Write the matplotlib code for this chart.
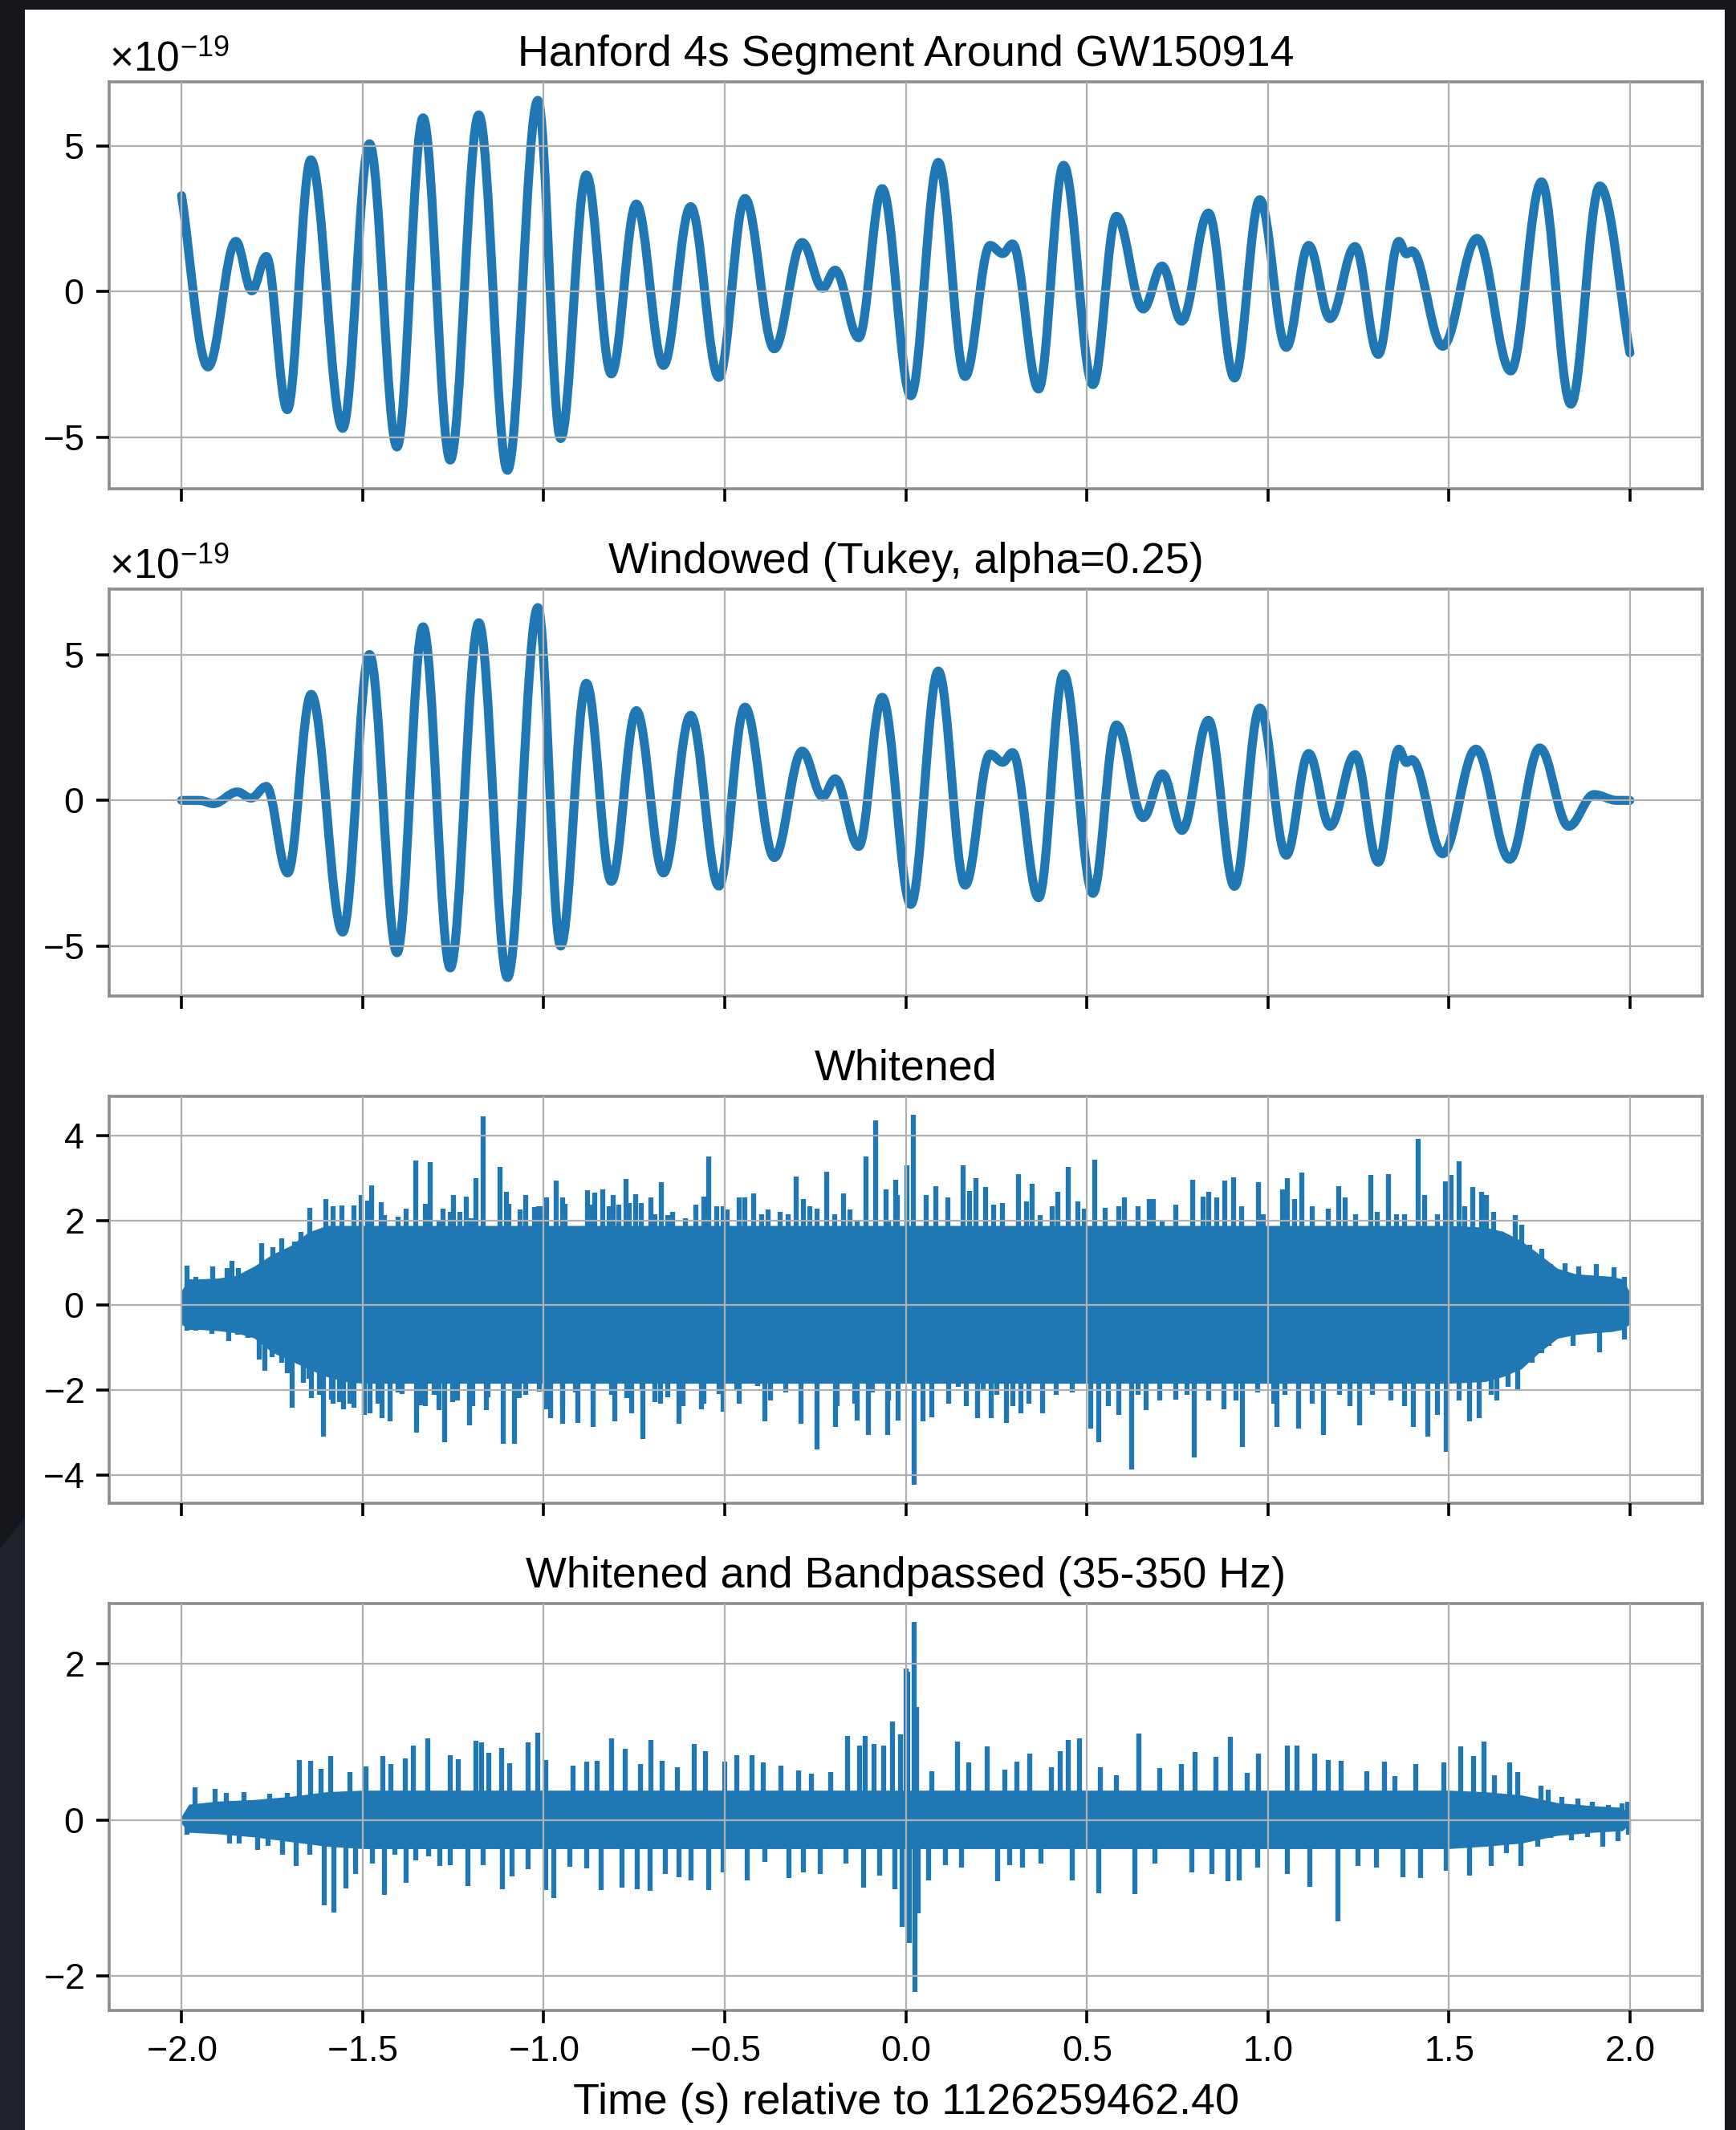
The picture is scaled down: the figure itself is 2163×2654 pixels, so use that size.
import matplotlib
matplotlib.use("Agg")
import matplotlib.pyplot as plt
from matplotlib.path import Path
from matplotlib.patches import PathPatch, Rectangle, Polygon
import numpy as np

# ---------------------------------------------------------------- data
STRAIN_UNIT = 1e-19
TITLES = [
    "Hanford 4s Segment Around GW150914",
    "Windowed (Tukey, alpha=0.25)",
    "Whitened",
    "Whitened and Bandpassed (35-350 Hz)",
]
XLABEL = "Time (s) relative to 1126259462.40"
XTICKS = [-2.0, -1.5, -1.0, -0.5, 0.0, 0.5, 1.0, 1.5, 2.0]
STRAIN_YTICKS = [-5, 0, 5]
WHITE_YTICKS = [-4, -2, 0, 2, 4]
BAND_YTICKS = [-2, 0, 2]

# raw strain: turning points of the low-frequency oscillation (units of 1e-19)
RAW_T = [-2.000, -1.927, -1.850, -1.806, -1.766, -1.708, -1.643, -1.555, -1.481,
         -1.405, -1.333, -1.258, -1.179, -1.100, -1.016, -0.953, -0.882, -0.813,
         -0.744, -0.669, -0.594, -0.516, -0.444, -0.363, -0.286, -0.229, -0.195,
         -0.130, -0.065, 0.014, 0.090, 0.164, 0.233, 0.268, 0.295, 0.367, 0.436,
         0.517, 0.582, 0.656, 0.708, 0.762, 0.836, 0.908, 0.978, 1.051, 1.113,
         1.172, 1.241, 1.305, 1.362, 1.383, 1.398, 1.483, 1.578, 1.671, 1.756,
         1.837, 1.917, 2.000]
RAW_V = [3.30, -2.58, 1.73, 0.03, 1.21, -4.05, 4.53, -4.69, 5.08,
         -5.33, 5.97, -5.78, 6.07, -6.13, 6.57, -5.04, 4.01, -2.82,
         3.01, -2.53, 2.92, -2.94, 3.20, -1.96, 1.69, 0.12, 0.74,
         -1.58, 3.54, -3.57, 4.44, -2.91, 1.59, 1.31, 1.64, -3.34, 4.34,
         -3.19, 2.59, -0.59, 0.88, -1.01, 2.70, -2.96, 3.16, -1.91, 1.59,
         -0.92, 1.55, -2.15, 1.73, 1.30, 1.40, -1.87, 1.83, -2.72, 3.77,
         -3.86, 3.63, -2.10]

# Tukey-windowed strain: turning points (units of 1e-19)
WIN_T = [-2.000, -1.950, -1.912, -1.846, -1.808, -1.766, -1.707, -1.642, -1.555,
         -1.481, -1.405, -1.333, -1.258, -1.179, -1.100, -1.016, -0.953, -0.882,
         -0.813, -0.744, -0.669, -0.594, -0.516, -0.444, -0.363, -0.286, -0.229,
         -0.195, -0.130, -0.065, 0.014, 0.090, 0.164, 0.233, 0.268, 0.295, 0.367,
         0.436, 0.517, 0.582, 0.656, 0.709, 0.763, 0.836, 0.908, 0.978, 1.051,
         1.113, 1.172, 1.241, 1.305, 1.362, 1.383, 1.398, 1.483, 1.575, 1.668,
         1.751, 1.831, 1.901, 1.964, 2.000]
WIN_V = [0.00, 0.00, -0.11, 0.29, 0.08, 0.48, -2.49, 3.64, -4.52,
         5.01, -5.23, 5.96, -5.75, 6.10, -6.08, 6.62, -5.00, 4.02,
         -2.78, 3.08, -2.49, 2.92, -2.94, 3.20, -1.96, 1.69, 0.12,
         0.74, -1.58, 3.54, -3.57, 4.44, -2.91, 1.59, 1.31, 1.64, -3.34,
         4.34, -3.19, 2.59, -0.59, 0.91, -1.03, 2.75, -2.95, 3.17, -1.88,
         1.61, -0.89, 1.57, -2.12, 1.76, 1.30, 1.40, -1.83, 1.76, -2.02,
         1.80, -0.89, 0.20, 0.00, 0.00]

# whitened: dense noise core envelope
WH_ENV_T = [-2.0, -1.98, -1.95, -1.9, -1.85, -1.8, -1.75, -1.7, -1.65, -1.6, -1.55,
            -1.5, -1.0, -0.5, 0.0, 0.5, 1.0, 1.5, 1.6, 1.65, 1.7, 1.75, 1.8, 1.85,
            1.9, 1.95, 1.98, 2.0]
WH_ENV_HI = [0.35, 0.62, 0.62, 0.64, 0.70, 0.92, 1.20, 1.40, 1.72, 1.88, 1.88,
             1.88, 1.88, 1.88, 1.88, 1.88, 1.88, 1.88, 1.84, 1.74, 1.52, 1.20, 0.87, 0.74,
             0.71, 0.68, 0.62, 0.30]
WH_ENV_LO = [-0.45, -0.57, -0.57, -0.60, -0.65, -0.77, -1.11, -1.30, -1.50, -1.68, -1.80,
             -1.84, -1.84, -1.84, -1.84, -1.84, -1.84, -1.84, -1.80, -1.68, -1.50, -1.11, -0.78, -0.69,
             -0.65, -0.62, -0.57, -0.44]
# whitened: tall excursions above the core
WH_UP_T = [-1.984, -1.960, -1.943, -1.914, -1.875, -1.860, -1.844, -1.830, -1.807, -1.779,
           -1.748, -1.724, -1.708, -1.688, -1.671, -1.646, -1.601, -1.581, -1.557, -1.524,
           -1.503, -1.476, -1.449, -1.354, -1.313, -1.278, -1.248, -1.214, -1.186, -1.167,
           -1.120, -1.103, -1.050, -1.014, -0.993, -0.965, -0.941, -0.878, -0.858, -0.836,
           -0.809, -0.772, -0.746, -0.703, -0.676, -0.643, -0.558, -0.544, -0.504, -0.459,
           -0.419, -0.381, -0.303, -0.282, -0.218, -0.171, -0.110, -0.084, -0.055, -0.027,
           0.003, 0.021, 0.083, 0.158, 0.194, 0.221, 0.311, 0.349, 0.419, 0.448,
           0.521, 0.604, 0.684, 0.792, 0.882, 0.905, 0.975, 1.055, 1.094, 1.195,
           1.285, 1.333, 1.415, 1.434, 1.506, 1.528, 1.566, 1.591, 1.623, 1.683,
           1.701, 1.723, 1.756, 1.781, 1.821, 1.859, 1.907, 1.956, 1.986]
WH_UP_V = [0.93, 0.67, 0.61, 0.92, 0.87, 1.04, 0.87, 0.74, 0.78, 1.47,
           1.36, 1.57, 1.06, 1.50, 1.73, 2.29, 2.50, 2.34, 2.36, 2.36,
           2.60, 2.83, 2.43, 3.41, 3.37, 2.27, 2.59, 2.57, 3.00, 4.46,
           3.26, 2.67, 2.60, 2.34, 2.54, 2.94, 2.39, 2.72, 2.65, 2.73,
           2.60, 2.98, 2.61, 2.54, 2.90, 2.21, 2.57, 3.51, 2.34, 2.55,
           2.63, 2.25, 3.04, 2.50, 3.15, 2.63, 3.50, 4.36, 2.74, 2.96,
           3.30, 4.49, 2.80, 3.30, 3.00, 2.78, 3.09, 2.86, 2.68, 3.27,
           3.44, 2.55, 2.50, 2.95, 2.94, 3.02, 2.91, 2.99, 3.13, 2.81,
           3.08, 3.09, 3.92, 2.59, 3.07, 3.40, 2.78, 2.67, 2.21, 2.13,
           1.89, 1.42, 1.34, 0.98, 1.00, 0.92, 0.98, 0.89, 0.66]
# whitened: shorter excursions along the top edge of the core
WH_UP2_T = [-1.486, -1.439, -1.401, -1.380, -1.326, -1.288, -1.259, -1.231, -1.200, -1.096,
            -1.065, -1.025, -1.004, -0.948, -0.870, -0.820, -0.792, -0.764, -0.731, -0.693,
            -0.657, -0.608, -0.579, -0.523, -0.494, -0.445, -0.398, -0.346, -0.324, -0.265,
            -0.246, -0.197, -0.154, -0.133, -0.048, -0.023, 0.056, 0.116, 0.176, 0.243,
            0.266, 0.334, 0.371, 0.404, 0.476, 0.494, 0.551, 0.589, 0.642, 0.672,
            0.709, 0.747, 0.822, 0.837, 0.860, 0.927, 0.987, 1.040, 1.074, 1.122,
            1.168, 1.213, 1.243, 1.303, 1.355, 1.378, 1.468, 1.491, 1.543, 1.603]
WH_UP2_V = [2.47, 2.12, 2.09, 2.27, 2.39, 2.02, 2.21, 2.21, 2.05, 2.39,
            2.25, 2.31, 2.34, 2.54, 2.38, 2.34, 2.38, 2.41, 2.41, 2.15,
            2.12, 2.05, 2.38, 2.34, 2.25, 2.54, 2.15, 2.21, 2.15, 2.34,
            2.28, 2.15, 2.25, 2.02, 2.02, 2.60, 2.60, 2.54, 2.70, 2.38,
            2.41, 2.44, 2.12, 2.34, 2.44, 2.28, 2.29, 2.34, 2.34, 2.50,
            2.02, 2.38, 2.57, 2.67, 2.55, 2.34, 2.15, 2.73, 2.50, 2.34,
            2.28, 2.54, 2.15, 2.21, 2.15, 2.15, 2.15, 2.93, 2.34, 2.60]
# whitened: tall excursions below the core
WH_DN_T = [-1.984, -1.960, -1.943, -1.917, -1.870, -1.846, -1.816, -1.785, -1.769, -1.749,
           -1.724, -1.708, -1.694, -1.663, -1.641, -1.609, -1.581, -1.552, -1.524, -1.496,
           -1.446, -1.425, -1.390, -1.350, -1.326, -1.274, -1.251, -1.205, -1.159, -1.111,
           -1.081, -1.050, -0.994, -0.980, -0.947, -0.905, -0.863, -0.804, -0.758, -0.725,
           -0.692, -0.626, -0.565, -0.504, -0.466, -0.388, -0.289, -0.244, -0.193, -0.133,
           -0.102, -0.050, 0.023, 0.048, 0.119, 0.198, 0.236, 0.278, 0.319, 0.379,
           0.511, 0.533, 0.589, 0.624, 0.664, 0.747, 0.796, 0.879, 0.930, 1.025,
           1.085, 1.153, 1.253, 1.401, 1.443, 1.494, 1.558, 1.584, 1.633, 1.690,
           1.731, 1.756, 1.776, 1.844, 1.916, 1.986]
WH_DN_V = [-0.60, -0.60, -0.56, -0.67, -0.84, -0.70, -0.76, -1.28, -1.54, -1.22,
           -1.35, -1.61, -2.41, -1.83, -2.19, -3.09, -2.32, -2.45, -2.41, -2.58,
           -2.67, -2.74, -2.09, -3.00, -2.38, -3.22, -2.28, -2.83, -2.48, -3.26,
           -3.26, -2.12, -2.45, -2.67, -2.80, -2.77, -2.87, -2.74, -2.54, -3.16,
           -2.28, -2.80, -2.45, -2.51, -1.99, -2.74, -2.80, -3.39, -2.87, -2.71,
           -3.06, -3.06, -4.23, -2.74, -2.32, -2.67, -2.67, -2.77, -2.54, -2.54,
           -2.90, -3.22, -2.58, -3.87, -2.48, -2.22, -3.58, -2.45, -3.35, -2.87,
           -2.90, -3.06, -2.83, -2.87, -3.09, -3.45, -2.74, -2.67, -2.25, -1.99,
           -1.35, -1.12, -0.96, -0.96, -1.11, -0.80]
# whitened: shorter excursions along the bottom edge of the core
WH_DN2_T = [-1.649, -1.620, -1.585, -1.564, -1.535, -1.479, -1.458, -1.401, -1.365, -1.337,
            -1.302, -1.288, -1.238, -1.195, -1.153, -1.139, -1.068, -1.011, -0.948, -0.912,
            -0.863, -0.813, -0.771, -0.728, -0.678, -0.657, -0.615, -0.558, -0.516, -0.459,
            -0.409, -0.374, -0.331, -0.289, -0.190, -0.140, -0.091, -0.048, -0.020, 0.071,
            0.146, 0.168, 0.213, 0.251, 0.296, 0.341, 0.416, 0.461, 0.559, 0.642,
            0.702, 0.777, 0.837, 0.912, 0.972, 1.017, 1.047, 1.122, 1.198, 1.228,
            1.288, 1.340, 1.378, 1.468, 1.528, 1.618, 1.663]
WH_DN2_V = [-1.73, -2.12, -2.22, -2.28, -2.32, -2.54, -2.32, -2.06, -1.80, -2.35,
            -2.12, -2.48, -2.25, -2.38, -2.16, -1.73, -2.19, -2.03, -2.38, -2.06,
            -2.25, -2.12, -2.19, -1.99, -2.32, -2.16, -2.38, -2.32, -2.09, -2.32,
            -1.90, -2.25, -2.06, -1.83, -2.38, -2.32, -2.06, -2.25, -2.71, -2.64,
            -1.93, -2.38, -1.99, -2.12, -2.38, -2.32, -2.12, -2.06, -2.38, -2.12,
            -2.25, -2.12, -2.25, -2.25, -2.06, -2.32, -2.12, -2.32, -2.12, -2.38,
            -2.12, -2.25, -2.38, -2.58, -2.25, -2.12, -1.93]

# whitened + bandpassed: noise core envelope
BP_ENV_T = [-2.0, -1.98, -1.9, -1.8, -1.7, -1.6, -1.5, 1.5, 1.6, 1.7, 1.8, 1.9, 1.98, 2.0]
BP_ENV_HI = [0.05, 0.20, 0.24, 0.26, 0.30, 0.36, 0.38, 0.38, 0.36, 0.32, 0.22, 0.18, 0.16, 0.05]
BP_ENV_LO = [-0.05, -0.16, -0.18, -0.22, -0.28, -0.34, -0.37, -0.37, -0.34, -0.30, -0.20, -0.16, -0.14, -0.05]
# whitened + bandpassed: excursions above the core (incl. the GW150914 chirp)
BP_UP_T = [-1.963, -1.908, -1.876, -1.827, -1.756, -1.709, -1.675, -1.643, -1.615, -1.589,
           -1.534, -1.491, -1.445, -1.422, -1.382, -1.359, -1.321, -1.258, -1.235, -1.186,
           -1.172, -1.151, -1.117, -1.094, -1.042, -1.017, -0.994, -0.919, -0.881, -0.853,
           -0.812, -0.775, -0.732, -0.703, -0.672, -0.631, -0.583, -0.554, -0.499, -0.467,
           -0.424, -0.393, -0.344, -0.295, -0.260, -0.208, -0.160, -0.128, -0.111, -0.088,
           -0.060, -0.037, -0.014, 0.000, 0.006, 0.023, 0.030, 0.072, 0.144, 0.173,
           0.225, 0.274, 0.308, 0.343, 0.403, 0.426, 0.449, 0.481, 0.538, 0.581,
           0.643, 0.701, 0.762, 0.799, 0.857, 0.897, 0.943, 0.975, 1.055, 1.081,
           1.130, 1.167, 1.202, 1.274, 1.323, 1.352, 1.409, 1.487, 1.533, 1.568,
           1.596, 1.625, 1.668, 1.691, 1.754, 1.774, 1.811, 1.857, 1.897, 1.940,
           1.978, 1.994]
BP_UP_V = [0.42, 0.40, 0.35, 0.36, 0.34, 0.35, 0.77, 0.76, 0.65, 0.82,
           0.61, 0.69, 0.82, 0.72, 0.79, 0.95, 1.05, 0.83, 0.78, 1.02,
           0.99, 0.86, 0.92, 0.73, 0.99, 1.12, 0.77, 0.70, 0.75, 0.76,
           1.05, 0.91, 0.72, 1.03, 0.76, 0.68, 0.97, 0.88, 0.75, 0.83,
           0.83, 0.74, 0.70, 0.63, 0.59, 0.61, 1.08, 0.95, 1.08, 0.97,
           0.95, 1.26, 1.10, 1.94, 1.90, 2.54, 1.45, 0.62, 1.01, 0.74,
           0.94, 0.64, 0.75, 0.85, 0.68, 0.88, 1.03, 1.05, 0.68, 0.57,
           1.11, 0.66, 0.72, 0.87, 0.81, 1.07, 0.60, 0.85, 0.95, 0.95,
           0.85, 0.77, 0.76, 0.62, 0.75, 0.56, 0.72, 0.74, 0.94, 0.82,
           1.00, 0.57, 0.74, 0.61, 0.44, 0.39, 0.29, 0.27, 0.23, 0.19,
           0.21, 0.23]
# whitened + bandpassed: excursions below the core
BP_DN_T = [-1.986, -1.948, -1.868, -1.842, -1.790, -1.761, -1.721, -1.684, -1.646, -1.606,
           -1.580, -1.546, -1.520, -1.474, -1.439, -1.410, -1.379, -1.353, -1.318, -1.287,
           -1.258, -1.209, -1.166, -1.114, -1.088, -1.042, -0.994, -0.971, -0.927, -0.881,
           -0.842, -0.783, -0.742, -0.707, -0.663, -0.626, -0.592, -0.545, -0.505, -0.438,
           -0.390, -0.323, -0.283, -0.237, -0.165, -0.116, -0.072, -0.030, -0.009, 0.009,
           0.026, 0.035, 0.063, 0.109, 0.155, 0.253, 0.288, 0.322, 0.374, 0.460,
           0.532, 0.633, 0.689, 0.791, 0.845, 0.891, 0.920, 0.972, 1.055, 1.116,
           1.193, 1.250, 1.299, 1.373, 1.422, 1.494, 1.557, 1.617, 1.660, 1.700,
           1.746, 1.781, 1.839, 1.882, 1.925, 1.968, 1.997]
BP_DN_V = [-0.19, -0.16, -0.30, -0.30, -0.39, -0.33, -0.45, -0.59, -0.45, -1.10,
           -1.19, -0.88, -0.70, -0.56, -0.96, -0.45, -0.81, -0.52, -0.47, -0.59,
           -0.58, -0.85, -0.58, -0.89, -0.73, -0.63, -0.90, -1.00, -0.60, -0.62,
           -0.90, -0.87, -0.89, -0.91, -0.70, -0.74, -0.78, -0.90, -0.68, -0.78,
           -0.54, -0.75, -0.67, -0.70, -0.56, -0.87, -0.72, -0.89, -1.38, -1.58,
           -2.21, -1.20, -0.78, -0.58, -0.61, -0.79, -0.58, -0.61, -0.56, -0.78,
           -0.94, -0.95, -0.56, -0.68, -0.70, -0.79, -0.78, -0.61, -0.70, -0.86,
           -1.30, -0.59, -0.61, -0.74, -0.75, -0.65, -0.72, -0.59, -0.43, -0.59,
           -0.34, -0.23, -0.26, -0.22, -0.34, -0.27, -0.19]

# ---------------------------------------------------------------- style
BLUE = "#1f77b4"
W_PX, H_PX, DPI = 2163, 2654, 323

plt.rcParams.update({
    "font.family": ["Liberation Sans", "DejaVu Sans"],
    "font.size": 10,
    "axes.titlesize": 12,
    "axes.labelsize": 12,
    "axes.titlepad": 4.5,
    "axes.formatter.use_mathtext": True,
    "mathtext.fontset": "custom",
    "mathtext.rm": "Liberation Sans",
    "mathtext.it": "Liberation Sans:italic",
    "mathtext.bf": "Liberation Sans:bold",
    "axes.edgecolor": "#8c8c8c",
    "axes.linewidth": 0.8,
    "axes.axisbelow": False,
    "grid.color": "#b0b0b0",
    "grid.linewidth": 0.5,
    "xtick.direction": "out",
    "ytick.direction": "out",
})


def smooth_path(t, v, scale=1.0):
    """Cubic Bezier curve through turning points (flat tangent at each interior point)."""
    n = len(t)
    y = [val * scale for val in v]
    verts = [(t[0], y[0])]
    codes = [Path.MOVETO]
    for i in range(n - 1):
        dt = t[i + 1] - t[i]
        k = 0.3642 * dt
        if i == 0:
            c1 = (t[i] + dt / 3.0, y[i] + (y[i + 1] - y[i]) / 3.0)
        else:
            c1 = (t[i] + k, y[i])
        if i == n - 2:
            c2 = (t[i + 1] - dt / 3.0, y[i + 1] - (y[i + 1] - y[i]) / 3.0)
        else:
            c2 = (t[i + 1] - k, y[i + 1])
        verts += [c1, c2, (t[i + 1], y[i + 1])]
        codes += [Path.CURVE4] * 3
    return Path(verts, codes)


fig = plt.figure(figsize=(W_PX / DPI, H_PX / DPI), dpi=DPI, facecolor="#15171d")
fig.add_artist(Polygon([(0, 0), (31 / W_PX, 0), (31 / W_PX, 1 - 1890 / H_PX), (0, 1 - 1930 / H_PX)],
                       closed=True, transform=fig.transFigure, facecolor="#1f222a",
                       edgecolor="none", zorder=-6))
fig.add_artist(Rectangle((31 / W_PX, 0), (2149 - 31) / W_PX, (H_PX - 12) / H_PX,
                         transform=fig.transFigure, facecolor="white", edgecolor="none", zorder=-5))

left = 136 / W_PX
width = (2121 - 136) / W_PX
height = 507 / H_PX
tops = [102, 734, 1366, 1998]
axes = []
for i, top in enumerate(tops):
    bottom = 1 - (top + 507) / H_PX
    ax = fig.add_axes([left, bottom, width, height], sharex=axes[0] if axes else None)
    axes.append(ax)

# strain panels
for ax, (tt, vv) in zip(axes[:2], [(RAW_T, RAW_V), (WIN_T, WIN_V)]):
    ax.add_patch(PathPatch(smooth_path(tt, vv, STRAIN_UNIT), fill=False, edgecolor=BLUE,
                           linewidth=2.5, joinstyle="round", capstyle="round"))
    ax.set_yticks([y * STRAIN_UNIT for y in STRAIN_YTICKS])
    ax.yaxis.get_offset_text().set_fontsize(11.5)

# whitened panel
ax = axes[2]
ax.fill_between(WH_ENV_T, WH_ENV_LO, WH_ENV_HI, color=BLUE, linewidth=0)
for st, sv in [(WH_UP_T, WH_UP_V), (WH_UP2_T, WH_UP2_V), (WH_DN_T, WH_DN_V), (WH_DN2_T, WH_DN2_V)]:
    ax.vlines(st, 0, sv, color=BLUE, linewidth=1.4)
ax.set_yticks(WHITE_YTICKS)

# whitened + bandpassed panel
ax = axes[3]
ax.fill_between(BP_ENV_T, BP_ENV_LO, BP_ENV_HI, color=BLUE, linewidth=0)
ax.vlines(BP_UP_T, 0, BP_UP_V, color=BLUE, linewidth=1.4)
ax.vlines(BP_DN_T, 0, BP_DN_V, color=BLUE, linewidth=1.4)
ax.set_yticks(BAND_YTICKS)

for i, ax in enumerate(axes):
    ax.autoscale_view()
    ax.set_title(TITLES[i])
    ax.grid(True)
    ax.set_xticks(XTICKS)
    ax.tick_params(axis="both", colors="black", length=3.5, width=0.8,
                   top=False, right=False)
    if i < 3:
        ax.tick_params(axis="x", labelbottom=False)
    for sp in ax.spines.values():
        sp.set_color("#8c8c8c")

axes[-1].set_xlabel(XLABEL)

fig.savefig("out.png", dpi=DPI, facecolor=fig.get_facecolor())
